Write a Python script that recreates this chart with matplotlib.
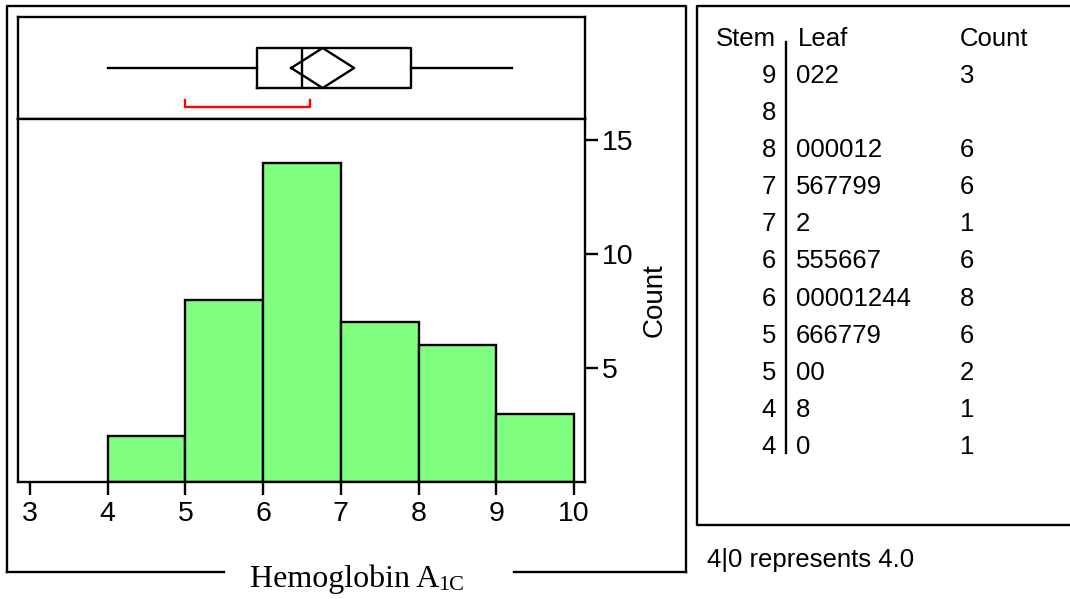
import matplotlib
matplotlib.use('Agg')
import matplotlib.pyplot as plt

plt.rcParams['font.family'] = ['Liberation Sans', 'DejaVu Sans']

# ---- data ----
bin_edges = [4, 5, 6, 7, 8, 9, 10]
bin_counts = [2, 8, 14, 7, 6, 3]
x_ticks = [3, 4, 5, 6, 7, 8, 9, 10]
y_ticks = [5, 10, 15]

# box plot summary (JMP style outlier box)
whisker_lo, whisker_hi = 4.0, 9.2
q1, median, q3 = 5.925, 6.5, 7.9
mean, mean_ci = 6.765, 0.405
short_half = (5.0, 6.6)

stems = ['9', '8', '8', '7', '7', '6', '6', '5', '5', '4', '4']
leaves = ['022', '', '000012', '567799', '2', '555667', '00001244',
          '666779', '00', '8', '0']
leaf_counts = ['3', '', '6', '6', '1', '6', '8', '6', '2', '1', '1']

# ---- layout (pixels of a 1070x599 canvas) ----
W, H = 1070, 599
fig = plt.figure(figsize=(W / 100, H / 100), dpi=100)


def fig_rect(x0, y0, x1, y1):
    return [x0 / W, 1 - y1 / H, (x1 - x0) / W, (y1 - y0) / H]


LW = 1.7
xlim = (2.846, 10.14)

# frames drawn in a pixel-space overlay
frame = fig.add_axes([0, 0, 1, 1])
frame.set_xlim(0, W)
frame.set_ylim(H, 0)
frame.axis('off')
k = dict(color='black', lw=LW, solid_capstyle='projecting')
frame.plot([7, 7, 686, 686], [572, 6, 6, 572], **k)
frame.plot([7, 224], [572, 572], **k)
frame.plot([514, 686], [572, 572], **k)
frame.plot([1075, 697, 697, 1075], [6, 6, 525, 525], **k)

# ---- box plot ----
axb = fig.add_axes(fig_rect(18, 17, 585, 119))
for s in axb.spines.values():
    s.set_linewidth(LW)
bstats = [dict(med=median, q1=q1, q3=q3, whislo=whisker_lo, whishi=whisker_hi)]
axb.bxp(bstats, positions=[0.5], widths=[0.392], orientation='horizontal',
        showcaps=False, showfliers=False,
        boxprops=dict(color='black', lw=LW),
        whiskerprops=dict(color='black', lw=LW),
        medianprops=dict(color='black', lw=LW))
axb.plot([mean - mean_ci, mean, mean + mean_ci, mean, mean - mean_ci],
         [0.5, 0.696, 0.5, 0.304, 0.5], color='black', lw=LW)
axb.plot([short_half[0], short_half[0], short_half[1], short_half[1]],
         [0.186, 0.118, 0.118, 0.186], color='#ff0000', lw=LW)
axb.set_xlim(*xlim)
axb.set_ylim(0, 1)
axb.set_xticks([])
axb.set_yticks([])

# ---- histogram ----
axh = fig.add_axes(fig_rect(18, 119, 585, 482))
axh.bar(bin_edges[:-1], bin_counts, width=1, align='edge',
        color='#80ff80', edgecolor='black', lw=LW)
axh.set_xlim(*xlim)
axh.set_ylim(0, 15.92)
for s in axh.spines.values():
    s.set_linewidth(LW)
axh.set_xticks(x_ticks)
axh.set_yticks(y_ticks)
axh.yaxis.tick_right()
axh.tick_params(axis='x', direction='out', length=9, width=LW, pad=5,
                labelsize=20.5)
axh.tick_params(axis='y', direction='out', length=9.5, width=LW, pad=3,
                labelsize=20.5)
fig.text(655 / W, 1 - 300 / H, 'Count', rotation=90, ha='center',
         va='center', fontsize=20)

# x axis title with subscript
fig.text(439 / W, 1 - 587 / H, 'Hemoglobin A', ha='right', va='baseline',
         fontsize=23, family='Liberation Serif')
fig.text(438 / W, 1 - 590 / H, '1C', ha='left', va='baseline',
         fontsize=16, family='Liberation Serif')

# ---- stem and leaf ----
fs = 18.5
frame.text(776, 46, 'Stem', ha='right', va='baseline', fontsize=fs)
frame.text(798, 46, 'Leaf', ha='left', va='baseline', fontsize=fs)
frame.text(960, 46, 'Count', ha='left', va='baseline', fontsize=fs)
frame.plot([786, 786], [42, 453], color='black', lw=LW)
for i, (st, lf, ct) in enumerate(zip(stems, leaves, leaf_counts)):
    yb = 83 + i * 37.1
    frame.text(776, yb, st, ha='right', va='baseline', fontsize=fs)
    frame.text(796, yb, lf, ha='left', va='baseline', fontsize=fs)
    frame.text(960, yb, ct, ha='left', va='baseline', fontsize=fs)
frame.text(707, 567, '4|0 represents 4.0', ha='left', va='baseline',
           fontsize=fs)

fig.savefig('out.png', dpi=100)
